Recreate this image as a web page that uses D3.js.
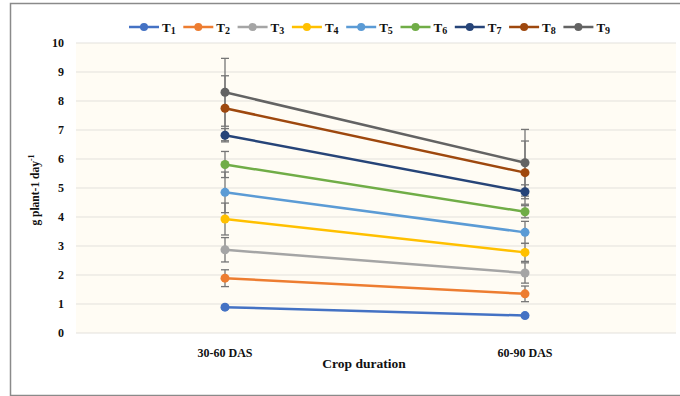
<!DOCTYPE html>
<html>
<head>
<meta charset="utf-8">
<script src="https://cdn.jsdelivr.net/npm/d3@7"></script>
<style>
  body { margin: 0; background: #fff; }
  text { font-family: "Liberation Serif", "Times New Roman", serif; font-weight: bold; fill: #111; }
</style>
</head>
<body>
<div id="chart"></div>
<script>
// categories on x
const categories = ["30-60 DAS", "60-90 DAS"];
// series names (subscript number)
const seriesNames = ["1", "2", "3", "4", "5", "6", "7", "8", "9"];
const colors = ["#4472C4", "#ED7D31", "#A5A5A5", "#FFC000", "#5B9BD5", "#70AD47", "#264478", "#9E480E", "#636363"];
// mean values per treatment, [30-60, 60-90]
const values = [
  [0.89, 0.60],
  [1.89, 1.35],
  [2.87, 2.07],
  [3.93, 2.78],
  [4.85, 3.47],
  [5.81, 4.18],
  [6.82, 4.87],
  [7.75, 5.53],
  [8.30, 5.87]
];
// error bar half widths
const errors = [
  [0.06, 0.05],
  [0.29, 0.27],
  [0.42, 0.35],
  [0.55, 0.31],
  [0.70, 0.38],
  [0.45, 0.21],
  [0.23, 0.24],
  [1.12, 1.09],
  [1.17, 1.15]
];
const yTicks = [0, 1, 2, 3, 4, 5, 6, 7, 8, 9, 10];

const W = 680, H = 396;
const svg = d3.select("#chart").append("svg").attr("width", W).attr("height", H);

// outer frame
svg.append("path")
  .attr("d", `M${W + 2},3.5 H10.5 V395.5 H${W + 2}`)
  .attr("fill", "none").attr("stroke", "#8a8a8a").attr("stroke-width", 1.5);

const x = d3.scalePoint().domain(categories).range([75, 675]).padding(0.5);
const y = d3.scaleLinear().domain([0, 10]).range([333, 43]);

// plot area
svg.append("rect").attr("x", 76).attr("y", 43).attr("width", 600).attr("height", 290).attr("fill", "#fffcf4");

svg.append("g").selectAll("line").data(yTicks).join("line")
  .attr("x1", 76).attr("x2", 676)
  .attr("y1", d => y(d)).attr("y2", d => y(d))
  .attr("stroke", "#e3e1dc").attr("stroke-width", 1);

// y axis labels
svg.append("g").selectAll("text").data(yTicks).join("text")
  .attr("x", 64).attr("y", d => y(d) + 4)
  .attr("text-anchor", "end").style("font-size", "12px")
  .text(d => d);

// x labels
svg.append("g").selectAll("text").data(categories).join("text")
  .attr("x", d => x(d)).attr("y", 357)
  .attr("text-anchor", "middle").style("font-size", "12px")
  .text(d => d);

svg.append("text").attr("x", 364).attr("y", 368).attr("text-anchor", "middle")
  .style("font-size", "13.5px").text("Crop duration");

// y title
const yt = svg.append("text").attr("transform", "translate(39,190) rotate(-90)")
  .attr("text-anchor", "middle").style("font-size", "11.5px");
yt.append("tspan").text("g plant-1 day");
yt.append("tspan").attr("dy", -5).style("font-size", "8px").text("-1");

// error bars
const eb = svg.append("g").attr("stroke", "#767676").attr("stroke-width", 1.3);
values.forEach((vals, i) => {
  vals.forEach((v, j) => {
    const cx = x(categories[j]);
    const e = errors[i][j];
    eb.append("line").attr("x1", cx).attr("x2", cx).attr("y1", y(v - e)).attr("y2", y(v + e));
    [v - e, v + e].forEach(t => {
      eb.append("line").attr("x1", cx - 4).attr("x2", cx + 4).attr("y1", y(t)).attr("y2", y(t));
    });
  });
});

// lines + markers
const line = d3.line().x((d, j) => x(categories[j])).y(d => y(d));
const series = svg.append("g").selectAll("g").data(values).join("g");
series.append("path")
  .attr("d", d => line(d))
  .attr("fill", "none").attr("stroke", (d, i) => colors[i]).attr("stroke-width", 2.5);
series.each(function (d, i) {
  d3.select(this).selectAll("circle").data(d).join("circle")
    .attr("cx", (v, j) => x(categories[j])).attr("cy", v => y(v))
    .attr("r", 4.5).attr("fill", colors[i]);
});

// legend
const legend = svg.append("g").selectAll("g").data(seriesNames).join("g")
  .attr("transform", (d, i) => `translate(${129 + i * 54.3},27)`);
legend.append("line").attr("x1", 0).attr("x2", 30).attr("y1", 0).attr("y2", 0)
  .attr("stroke", (d, i) => colors[i]).attr("stroke-width", 2.5);
legend.append("circle").attr("cx", 15).attr("cy", 0).attr("r", 4).attr("fill", (d, i) => colors[i]);
const lt = legend.append("text").attr("x", 33).attr("y", 5).style("font-size", "13px");
lt.append("tspan").text("T");
lt.append("tspan").attr("dy", 2).style("font-size", "10px").text(d => d);
</script>
</body>
</html>
